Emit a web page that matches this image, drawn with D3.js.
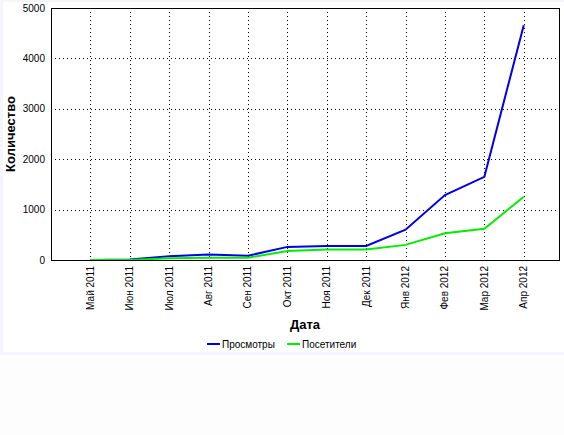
<!DOCTYPE html>
<html><head><meta charset="utf-8">
<script src="https://cdn.jsdelivr.net/npm/d3@7"></script>
<style>
html,body{margin:0;padding:0;background:#fdfdfd;}
svg{display:block;}
text{font-family:"Liberation Sans",Arial,sans-serif;fill:#000;}
</style></head>
<body>
<svg id="c" width="564" height="435"></svg>
<script>
const months = ["Май 2011","Июн 2011","Июл 2011","Авг 2011","Сен 2011","Окт 2011","Ноя 2011","Дек 2011","Янв 2012","Фев 2012","Мар 2012","Апр 2012"];
const views =    [0, 10, 75, 110, 85, 260, 280, 280, 600, 1290, 1650, 4660];
const visitors = [0, 0, 35, 45, 45, 180, 210, 210, 300, 530, 620, 1255];
const yTicks = [0, 1000, 2000, 3000, 4000, 5000];
const seriesNames = ["Просмотры", "Посетители"];
const seriesColors = ["#0000ee", "#00ee00"];

const svg = d3.select("#c");
// frame
svg.append("rect").attr("x",0).attr("y",0).attr("width",564).attr("height",355).attr("fill","#f4f6fb");
svg.append("rect").attr("x",3).attr("y",2).attr("width",561).attr("height",350).attr("fill","#ffffff");

const L=51, R=560, T=8, B=260;
const x = d3.scaleLinear().domain([-1, 11.92]).range([L, R]);
const y = d3.scaleLinear().domain([0, 5000]).range([B, T]);

// grid
const g = svg.append("g");
g.selectAll(".hg").data(yTicks.filter(d=>d>0 && d<5000)).join("line")
  .attr("x1",L).attr("x2",R).attr("y1",d=>Math.round(y(d))+0.5).attr("y2",d=>Math.round(y(d))+0.5)
  .attr("stroke","#000").attr("stroke-dasharray","1,3");
g.selectAll(".vg").data(months).join("line")
  .attr("x1",(d,i)=>Math.round(x(i))+0.5).attr("x2",(d,i)=>Math.round(x(i))+0.5)
  .attr("y1",T).attr("y2",B)
  .attr("stroke","#000").attr("stroke-dasharray","1,3");

// lines
const line = d3.line().x((d,i)=>x(i)).y(d=>y(d));
[views, visitors].forEach((s,k)=>{
  svg.append("path").datum(s).attr("d",line).attr("fill","none")
    .attr("stroke",seriesColors[k]).attr("stroke-width",2);
});

// frame of plot
svg.append("rect").attr("x",L+0.5).attr("y",T+0.5).attr("width",R-L-1).attr("height",B-T)
  .attr("fill","none").attr("stroke","#000").attr("stroke-width",1);

// y tick labels
svg.selectAll(".yl").data(yTicks).join("text")
  .attr("x",45).attr("y",d=>y(d)).attr("dy","0.35em").attr("text-anchor","end")
  .attr("font-size","10px").text(d=>d);

// x tick labels
svg.selectAll(".xl").data(months).join("text")
  .attr("transform",(d,i)=>`translate(${x(i)},266) rotate(-90)`)
  .attr("text-anchor","end").attr("dy","0.35em").attr("font-size","10px").text(d=>d);

// axis titles
svg.append("text").attr("transform","translate(10,134) rotate(-90)").attr("dy","0.35em")
  .attr("text-anchor","middle").attr("font-size","13px").attr("font-weight","bold").text("Количество");
svg.append("text").attr("x",305).attr("y",329).attr("text-anchor","middle")
  .attr("font-size","13px").attr("font-weight","bold").text("Дата");

// legend
const legX = [207, 287];
seriesNames.forEach((n,k)=>{
  svg.append("line").attr("x1",legX[k]).attr("x2",legX[k]+13).attr("y1",344).attr("y2",344)
    .attr("stroke",seriesColors[k]).attr("stroke-width",2);
  svg.append("text").attr("x",legX[k]+15).attr("y",344).attr("dy","0.35em")
    .attr("font-size","10px").text(n);
});
</script>
</body></html>
